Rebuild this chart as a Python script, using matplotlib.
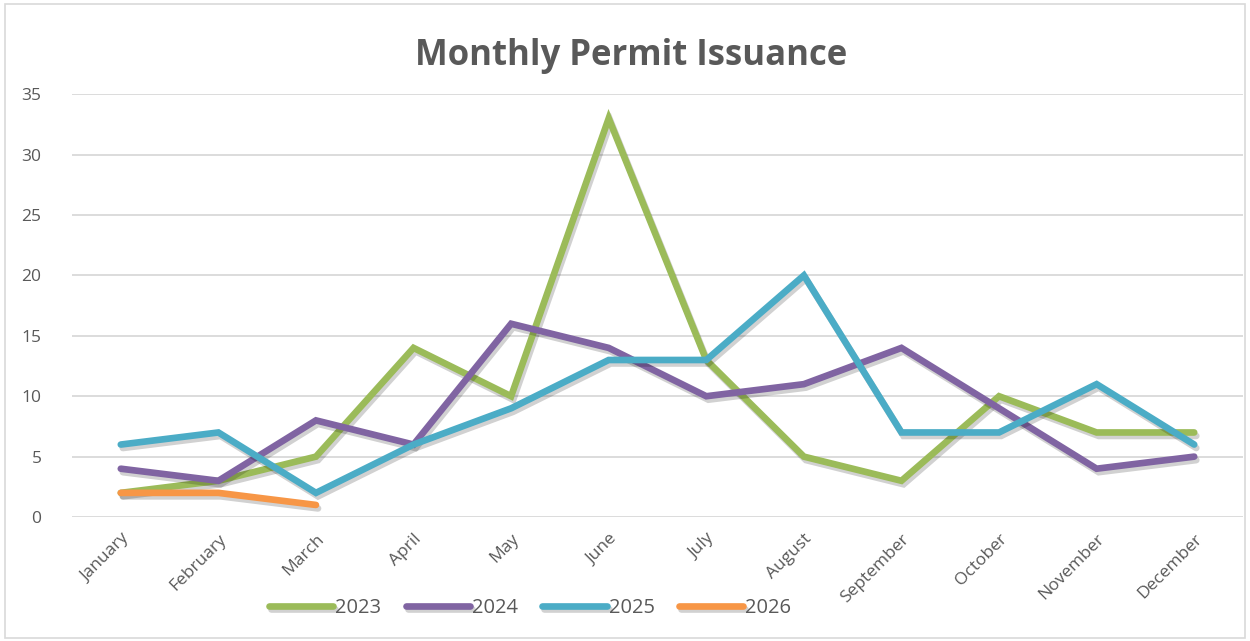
import matplotlib
matplotlib.use("Agg")
import matplotlib.pyplot as plt
import matplotlib.patheffects as pe
from matplotlib.patches import Rectangle

months = ["January", "February", "March", "April", "May", "June",
          "July", "August", "September", "October", "November", "December"]
permits_2023 = [2, 3, 5, 14, 10, 33, 13, 5, 3, 10, 7, 7]
permits_2024 = [4, 3, 8, 6, 16, 14, 10, 11, 14, 9, 4, 5]
permits_2025 = [6, 7, 2, 6, 9, 13, 13, 20, 7, 7, 11, 6]
permits_2026 = [2, 2, 1]

series = [("2023", permits_2023, "#9BBB59"),
          ("2024", permits_2024, "#8064A2"),
          ("2025", permits_2025, "#4BACC6"),
          ("2026", permits_2026, "#F79646")]

plt.rcParams['font.family'] = ['Open Sans', 'DejaVu Sans']
txt = "#595959"

fig = plt.figure(figsize=(12.5, 6.41), dpi=100)
fig.patches.append(Rectangle((0.004, 0.004), 0.992, 0.99, transform=fig.transFigure,
                             fill=False, edgecolor="#d9d9d9", linewidth=1.2))
ax = fig.add_axes([0.0576, 0.1934, 0.9368, 0.6596])

# soft drop shadow under each line, like the Excel style
shadow = [pe.SimpleLineShadow(offset=(1.5, -2.5), shadow_color="black", alpha=0.18),
          pe.Normal()]
for name, vals, col in series:
    ax.plot(range(len(vals)), vals, color=col, linewidth=4.8, label=name,
            solid_capstyle="round", solid_joinstyle="miter", path_effects=shadow)

ax.set_xlim(-0.5, 11.5)
ax.set_ylim(0, 35)
ax.set_yticks(range(0, 36, 5))
ax.set_xticks(range(12))
ax.set_xticklabels(months, rotation=45, ha="right", rotation_mode="anchor")
ax.tick_params(length=0, labelsize=12.5, colors=txt)
ax.tick_params(axis="y", pad=22)
ax.tick_params(axis="x", pad=10)
ax.grid(axis="y", color="#d9d9d9", linewidth=1.3)
ax.set_axisbelow(True)
for s in ax.spines.values():
    s.set_visible(False)

fig.text(0.505, 0.912, "Monthly Permit Issuance", ha="center", va="center",
         fontsize=25, fontweight="bold", color=txt)

fig.legend(loc="center", bbox_to_anchor=(0.424, 0.052), ncol=4, frameon=False,
           fontsize=14.5, labelcolor=txt, handlelength=3.2, handletextpad=0.1,
           columnspacing=1.2)

fig.savefig("out.png", dpi=100)
